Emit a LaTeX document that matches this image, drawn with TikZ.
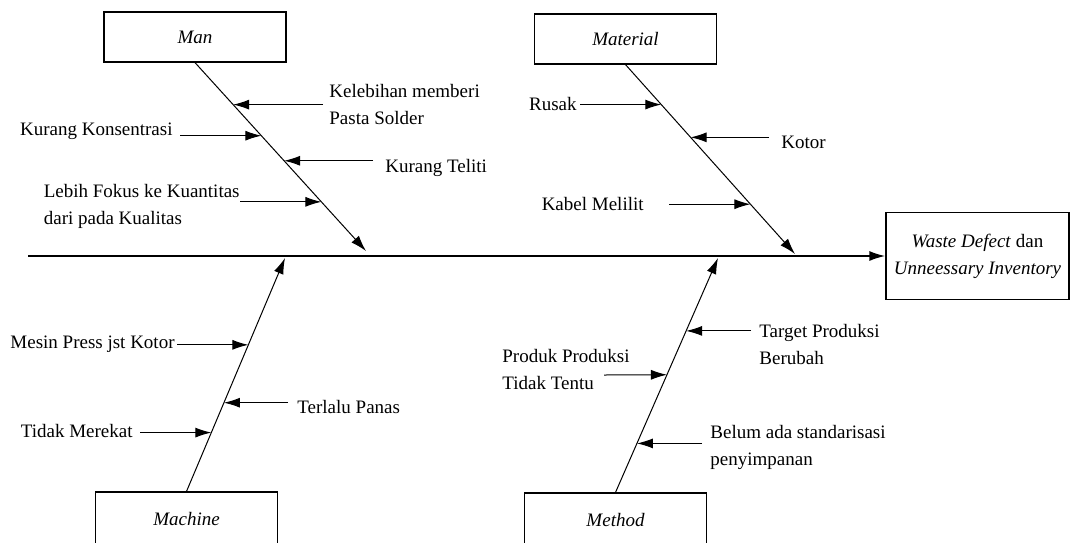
\documentclass[tikz,border=0pt]{standalone}
\usepackage{fontspec}
\setmainfont{Liberation Serif}
\usetikzlibrary{arrows.meta}
\usetikzlibrary{positioning}

\begin{document}
\begin{tikzpicture}[x=0.5pt,y=-0.5pt,font=\fontsize{9.5}{13.5}\selectfont]
	%\draw[help lines] (0,0) grid (1070,542);
	\useasboundingbox (0,0) rectangle (1070,542);
	\clip (0,0) rectangle (1070,542);

	\tikzstyle{catbox} = [draw,line width=0.6pt,inner sep=0pt,minimum width=91pt,minimum height=25pt,font=\fontsize{9.5}{13.5}\selectfont\itshape]
	\tikzstyle{effbox} = [draw,line width=0.6pt,inner sep=0pt,minimum width=91.5pt,minimum height=43.5pt,align=center]
	\tikzstyle{cause} = [inner ysep=0pt,inner xsep=0pt,align=left]
	\tikzstyle{arr} = [-{Latex[length=8pt,width=5pt]},line width=0.5pt]
	\tikzstyle{spine} = [-{Latex[length=8pt,width=5pt]},line width=0.9pt]

% spine
\coordinate (tail) at (28,256);
\node[effbox] (eff) at (977.5,256) {\textit{Waste Defect} dan\\\textit{Unneessary Inventory}};
\draw[spine] (tail) -- (eff);

% man
\node[catbox] (man) at (195,37) {Man};
\coordinate (mantip) at (366,251);
\draw[arr] (man.south) -- coordinate[pos=.223] (man1) coordinate[pos=.388] (man2) coordinate[pos=.521] (man3) coordinate[pos=.739] (man4) (mantip);

\node[cause,anchor=west,inner xsep=3pt] (kel) at (323,104) {Kelebihan memberi\\Pasta Solder};
\node[cause,anchor=east,inner xsep=3.5pt] (kons) at (180,131) {Kurang Konsentrasi};
\node[cause,anchor=west,inner xsep=6pt] (tel) at (373,168) {Kurang Teliti};
\node[cause,anchor=east] (fok) at (240,206.5) {Lebih Fokus ke Kuantitas\\dari pada Kualitas};
\draw[arr] (kel.west |- man1) -- (man1);
\draw[arr] (kons.east |- man2) -- (man2);
\draw[arr] (tel.west |- man3) -- (man3);
\draw[arr] (fok.east |- man4) -- (man4);

% material
\node[catbox] (mat) at (625.5,39) {Material};
\coordinate (mattip) at (795,254);
\draw[arr] (mat.south) -- coordinate[pos=.211] (mat1) coordinate[pos=.384] (mat2) coordinate[pos=.737] (mat3) (mattip);

\node[cause,anchor=east,inner xsep=1.5pt] (rus) at (580,104) {Rusak};
\node[cause,anchor=west,inner xsep=6pt] (kot) at (769,142) {Kotor};
\node[cause,anchor=east,inner xsep=12.5pt] (kab) at (669,204) {Kabel Melilit};
\draw[arr] (rus.east |- mat1) -- (mat1);
\draw[arr] (kot.west |- mat2) -- (mat2);
\draw[arr] (kab.east |- mat3) -- (mat3);

% machine
\node[catbox,minimum height=27pt] (mach) at (186.5,519) {Machine};
\coordinate (machtip) at (285,258);
\draw[arr] (mach.north) -- coordinate[pos=.252] (mac1) coordinate[pos=.380] (mac2) coordinate[pos=.628] (mac3) (machtip);

\node[cause,anchor=east,inner xsep=3.5pt] (mer) at (140,431) {Tidak Merekat};
\node[cause,anchor=west,inner xsep=4.5pt] (pan) at (288,407) {Terlalu Panas};
\node[cause,anchor=east,inner xsep=1pt] (mes) at (177,344) {Mesin Press jst Kotor};
\draw[arr] (mer.east |- mac1) -- (mac1);
\draw[arr] (pan.west |- mac2) -- (mac2);
\draw[arr] (mes.east |- mac3) -- (mac3);

% method
\node[catbox,minimum height=27pt] (meth) at (615.5,520) {Method};
\coordinate (methtip) at (718,258);
\draw[arr] (meth.north) -- coordinate[pos=.209] (met1) coordinate[pos=.502] (met2) coordinate[pos=.689] (met3) (methtip);

\node[cause,anchor=west,inner xsep=4pt] (bel) at (702,447) {Belum ada standarisasi\\penyimpanan};
\node[cause,anchor=west] (pro) at (502,369.5) {Produk Produksi\\Tidak Tentu};
\coordinate (pros) at (604,375);
\node[cause,anchor=west,inner xsep=4pt] (tar) at (751,344.5) {Target Produksi\\Berubah};
\draw[arr] (bel.west |- met1) -- (met1);
\draw[arr] (pros) -- (met2);
\draw[arr] (tar.west |- met3) -- (met3);
\end{tikzpicture}
\end{document}
